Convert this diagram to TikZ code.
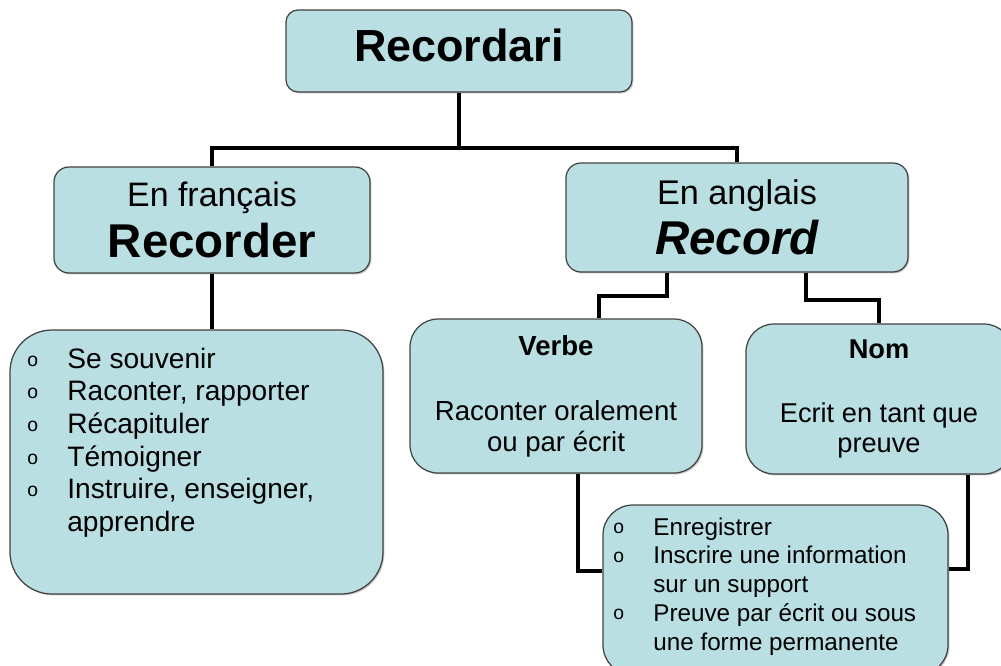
\documentclass[tikz,border=0pt]{standalone}
\usepackage{fontspec}
\setmainfont{Liberation Sans}
\usepackage{array}
\usetikzlibrary{shadows}
\newlength{\pxl}
\setlength{\pxl}{0.02cm}
\definecolor{boxfill}{RGB}{185,223,227}
\definecolor{boxline}{RGB}{65,65,65}
\newcommand{\puce}{\raisebox{1pt}{\fontsize{11}{11}\selectfont o}}

\begin{document}
\begin{tikzpicture}[x=0.02cm, y=-0.02cm,
    box/.style={draw=boxline, fill=boxfill, line width=0.7pt,
                rounded corners=#1, inner sep=0pt, align=center,
                drop shadow={shadow xshift=0.8pt, shadow yshift=-0.8pt,
                             opacity=0.45, fill=gray}},
    box/.default=15\pxl,
    link/.style={draw=black, line width=2.3pt},
    lista/.style={anchor=base west, inner sep=0pt}]

    \useasboundingbox (0,0) rectangle (1001,666);

    % Caselle principali
    \node[box=12\pxl, minimum width=346\pxl, minimum height=82\pxl, text depth=7pt] (root) at (459,51)
        {\fontsize{25.6}{30}\selectfont\bfseries Recordari};
    \node[box, minimum width=316\pxl, minimum height=106\pxl] (fr) at (212,220)
        {\fontsize{19.3}{24}\selectfont En français\\[4pt]
         \fontsize{27}{30}\selectfont\bfseries Recorder};
    \node[box, minimum width=342\pxl, minimum height=109\pxl] (en) at (737,217.5)
        {\fontsize{19.5}{24}\selectfont En anglais\\[4pt]
         \fontsize{27}{30}\selectfont\bfseries\itshape Record};

    % Caselle dei significati
    \node[box=42\pxl, minimum width=373\pxl, minimum height=264\pxl] (frlist) at (196.5,462) {};
    \node[box=28\pxl, minimum width=292\pxl, minimum height=154\pxl,
          font=\fontsize{15.7}{17.6}\selectfont] (verbe) at (556,396)
        {\textbf{Verbe}\\[19.4pt]Raconter oralement\\ou par écrit};
    \node[box=28\pxl, minimum width=266\pxl, minimum height=150\pxl,
          font=\fontsize{15.5}{17.2}\selectfont] (nom) at (879,399)
        {\textbf{Nom}\\[19.4pt]Ecrit en tant que\\preuve};
    \node[box=30\pxl, minimum width=345\pxl, minimum height=170\pxl] (regbox) at (775.5,590) {};

    % Elenchi puntati
    \node[lista] (frtxt) at (27,368) {\fontsize{16}{18.6}\selectfont
        \begin{tabular}[t]{@{}p{40\pxl}@{}l@{}}
            \puce & Se souvenir\\
            \puce & Raconter, rapporter\\
            \puce & Récapituler\\
            \puce & Témoigner\\
            \puce & Instruire, enseigner,\\
                  & apprendre
        \end{tabular}};
    \node[lista] (regtxt) at (613,535) {\fontsize{13.8}{16.4}\selectfont
        \begin{tabular}[t]{@{}p{40\pxl}@{}l@{}}
            \puce & Enregistrer\\
            \puce & Inscrire une information\\
                  & sur un support\\
            \puce & Preuve par écrit ou sous\\
                  & une forme permanente
        \end{tabular}};

    % Collegamenti
    \coordinate (split) at (459,148);
    \draw[link] (root.south) -- (split);
    \draw[link] (fr.north) |- (split) -| (en.north);
    \draw[link] (fr.south) -- (fr.south |- frlist.north);
    \draw[link] ([xshift=-70\pxl]en.south) |- ([xshift=43\pxl,yshift=22\pxl]verbe.north)
        -- ([xshift=43\pxl]verbe.north);
    \draw[link] ([xshift=69\pxl]en.south) |- ([yshift=23\pxl]nom.north) -- (nom.north);
    \draw[link] ([xshift=22\pxl]verbe.south) |- ([yshift=19\pxl]regbox.west);
    \draw[link] ([xshift=89\pxl]nom.south) |- ([yshift=21\pxl]regbox.east);
\end{tikzpicture}
\end{document}
